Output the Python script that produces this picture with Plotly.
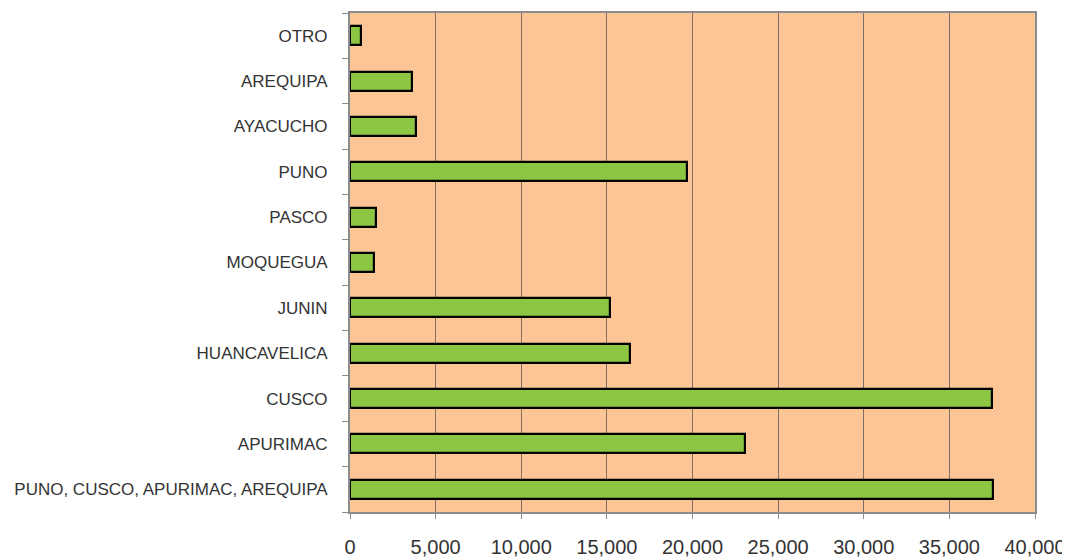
import plotly.graph_objects as go

# ── Data ──────────────────────────────────────────────────────────────────────
REGIONS = [
    "PUNO, CUSCO, APURIMAC, AREQUIPA",
    "APURIMAC",
    "CUSCO",
    "HUANCAVELICA",
    "JUNIN",
    "MOQUEGUA",
    "PASCO",
    "PUNO",
    "AYACUCHO",
    "AREQUIPA",
    "OTRO",
]
VALUES = [37560, 23080, 37500, 16370, 15180, 1400, 1520, 19680, 3880, 3600, 620]
X_TICKS = [0, 5000, 10000, 15000, 20000, 25000, 30000, 35000, 40000]

PEACH = "#FBC596"
GREEN = "#8DC642"
GRID  = "#7F6F63"

fig = go.Figure(go.Bar(
    x=VALUES, y=REGIONS, orientation="h",
    width=0.42,
    marker=dict(color=GREEN, line=dict(color="black", width=2.2)),
))

# page body has an 8px margin, so the figure is sized to fit the window
fig.update_layout(
    width=1062, height=551,
    separators=".,",
    font=dict(family="Liberation Sans, Arial, sans-serif", size=17, color="#333333"),
    plot_bgcolor=PEACH, paper_bgcolor="white",
    margin=dict(l=342, r=35, t=5, b=47),
    showlegend=False,
    bargap=0,
    xaxis=dict(
        range=[0, 40000], tickvals=X_TICKS, tickformat=",d",
        showgrid=True, gridcolor=GRID, gridwidth=1,
        showline=True, linecolor="#8C8C8C", linewidth=2, mirror=True,
        ticks="outside", ticklen=5, tickcolor="#8C8C8C",
        tickfont=dict(size=20), ticklabelstandoff=11,
        zeroline=False, automargin=False,
    ),
    yaxis=dict(
        categoryorder="array", categoryarray=REGIONS,
        showgrid=False,
        showline=True, linecolor="#8C8C8C", linewidth=2, mirror=True,
        ticks="outside", ticklen=6, tickcolor="#8C8C8C",
        tickson="boundaries",
        tickfont=dict(size=17), ticklabelstandoff=17,
        automargin=False,
    ),
)

fig.write_html("out.html")
